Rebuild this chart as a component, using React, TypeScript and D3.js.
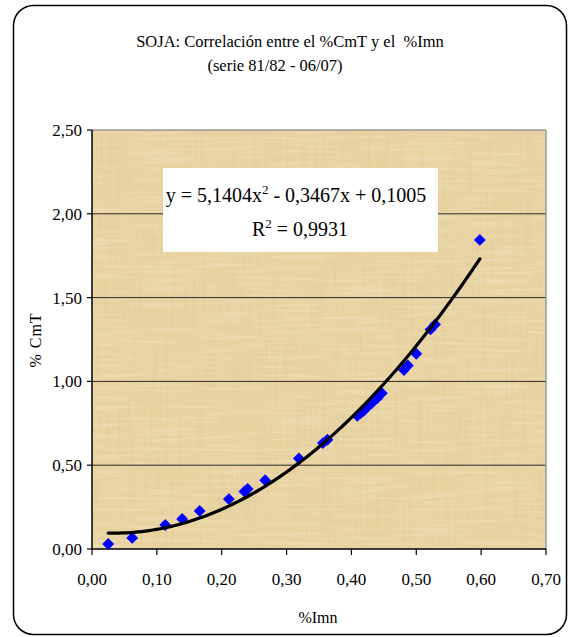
import React from "react";
import * as d3 from "d3";

const imnValues = [0.025, 0.062, 0.113, 0.139, 0.166, 0.211, 0.235, 0.24, 0.267, 0.319, 0.356, 0.363, 0.409, 0.414, 0.419, 0.424, 0.432, 0.44, 0.447, 0.481, 0.487, 0.5, 0.522, 0.529, 0.598];
const cmtValues = [0.03, 0.066, 0.143, 0.179, 0.227, 0.298, 0.343, 0.358, 0.41, 0.54, 0.632, 0.652, 0.795, 0.81, 0.825, 0.845, 0.872, 0.9, 0.93, 1.068, 1.095, 1.165, 1.31, 1.34, 1.844];
const trendCoefficients = [5.1404, -0.3467, 0.1005];
const xTicks = [0, 0.1, 0.2, 0.3, 0.4, 0.5, 0.6, 0.7];
const yTicks = [0, 0.5, 1, 1.5, 2, 2.5];
const titleLines = ["SOJA: Correlación entre el %CmT y el  %Imn", "(serie 81/82 - 06/07)"];

const W = 568, H = 637;
const PL = 92, PR = 546, PT = 130, PB = 549;
const serif = "Liberation Serif, DejaVu Serif, serif";
const fmt = (v: number) => v.toFixed(2).replace(".", ",");

export default function App() {
  const x = d3.scaleLinear().domain([0, 0.7]).range([PL, PR]);
  const y = d3.scaleLinear().domain([0, 2.5]).range([PB, PT]);
  const [a, b, c] = trendCoefficients;
  const xMin = d3.min(imnValues) as number;
  const xMax = d3.max(imnValues) as number;
  const trendPts: [number, number][] = d3.range(0, 101).map((i) => {
    const xv = xMin + ((xMax - xMin) * i) / 100;
    return [xv, a * xv * xv + b * xv + c];
  });
  const line = d3.line<[number, number]>().x((d) => x(d[0])).y((d) => y(d[1])).curve(d3.curveLinear);
  const diamond = d3.symbol().type(d3.symbolSquare).size(70)();
  const ts = { fontFamily: serif, whiteSpace: "pre" as const };

  return (
    <svg width={W} height={H} style={{ position: "absolute", left: 0, top: 0 }}>
      <defs>
        <filter id="vfib" x="0" y="0" width="100%" height="100%">
          <feTurbulence type="fractalNoise" baseFrequency="0.35 0.015" numOctaves="2" seed="4" />
          <feColorMatrix type="matrix" values="0 0 0 0 0.62  0 0 0 0 0.5  0 0 0 0 0.25  1.1 0 0 0 -0.5" />
        </filter>
        <filter id="hfib" x="0" y="0" width="100%" height="100%">
          <feTurbulence type="fractalNoise" baseFrequency="0.015 0.35" numOctaves="2" seed="9" />
          <feColorMatrix type="matrix" values="0 0 0 0 1  0 0 0 0 0.96  0 0 0 0 0.86  1.0 0 0 0 -0.45" />
        </filter>
        <clipPath id="plotClip">
          <rect x={PL} y={PT} width={PR - PL} height={PB - PT} />
        </clipPath>
      </defs>
      <rect x={0} y={0} width={W} height={H} fill="#fff" />
      <rect x={13.5} y={5.5} width={553} height={629} rx={20} ry={20} fill="#fff" stroke="#000" strokeWidth={1.5} />

      {titleLines.map((t, i) => (
        <text key={i} x={i === 0 ? 290 : 275} y={i === 0 ? 47 : 71} textAnchor="middle" fontSize={16.5} fill="#000" style={ts}>
          {t}
        </text>
      ))}

      <g clipPath="url(#plotClip)">
        <rect x={PL} y={PT} width={PR - PL} height={PB - PT} fill="#E8D3A1" />
        <rect x={PL} y={PT} width={PR - PL} height={PB - PT} filter="url(#vfib)" opacity={0.5} />
        <rect x={PL} y={PT} width={PR - PL} height={PB - PT} filter="url(#hfib)" opacity={0.6} />
      </g>

      {yTicks.filter((v) => v > 0 && v < 2.5).map((v) => (
        <line key={v} x1={PL} x2={PR} y1={y(v)} y2={y(v)} stroke="#2a2a2a" strokeWidth={1} />
      ))}
      <line x1={PL} x2={PR} y1={PT} y2={PT} stroke="#999" strokeWidth={1.5} />
      <line x1={PR} x2={PR} y1={PT} y2={PB} stroke="#999" strokeWidth={1.5} />
      <line x1={PL} x2={PL} y1={PT} y2={PB} stroke="#000" strokeWidth={1.5} />
      <line x1={PL} x2={PR} y1={PB} y2={PB} stroke="#000" strokeWidth={1.5} />

      {yTicks.map((v) => (
        <g key={v}>
          <line x1={PL - 5} x2={PL} y1={y(v)} y2={y(v)} stroke="#000" strokeWidth={1.2} />
          <text x={PL - 10} y={y(v) + 6} textAnchor="end" fontSize={17} fill="#000" style={ts}>{fmt(v)}</text>
        </g>
      ))}
      {xTicks.map((v) => (
        <g key={v}>
          <line x1={x(v)} x2={x(v)} y1={PB} y2={PB + 6} stroke="#000" strokeWidth={1.2} />
          <text x={x(v)} y={585} textAnchor="middle" fontSize={17} fill="#000" style={ts}>{fmt(v)}</text>
        </g>
      ))}

      <text x={318} y={623} textAnchor="middle" fontSize={16} fill="#000" style={ts}>%Imn</text>
      <text transform="translate(41,340) rotate(-90)" textAnchor="middle" fontSize={16} fill="#000" style={{ ...ts, letterSpacing: "1px" }}>% CmT</text>

      <rect x={163} y={168} width={275} height={84} fill="#fff" />
      <text x={296} y={202} textAnchor="middle" fontSize={20} fill="#000" style={ts}>
        y = 5,1404x<tspan dy={-8} fontSize={13}>2</tspan><tspan dy={8}> - 0,3467x + 0,1005</tspan>
      </text>
      <text x={300} y={236} textAnchor="middle" fontSize={20} fill="#000" style={ts}>
        R<tspan dy={-8} fontSize={13}>2</tspan><tspan dy={8}> = 0,9931</tspan>
      </text>

      {imnValues.map((xv, i) => (
        <path key={i} d={diamond as string} transform={`translate(${x(xv)},${y(cmtValues[i])}) rotate(45)`} fill="#0000FF" />
      ))}
      <path d={line(trendPts) as string} fill="none" stroke="#000" strokeWidth={3.2} strokeLinecap="round" />
    </svg>
  );
}
